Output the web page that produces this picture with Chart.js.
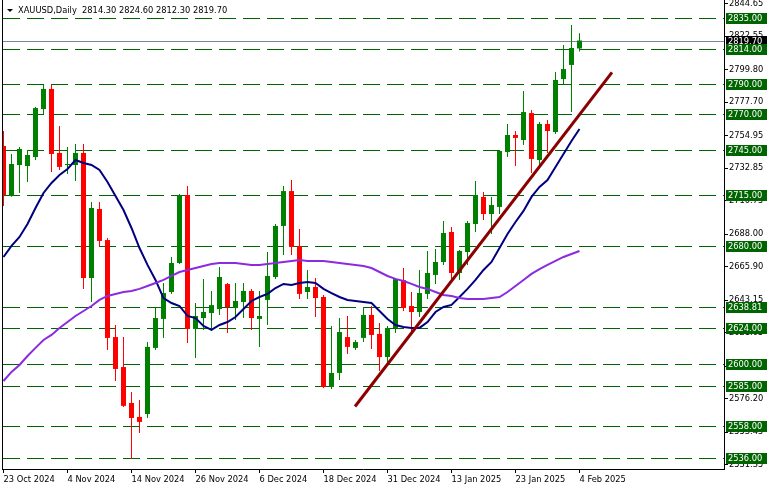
<!DOCTYPE html>
<html><head><meta charset="utf-8">
<script src="https://cdn.jsdelivr.net/npm/chart.js@4.4.0/dist/chart.umd.min.js"></script>
<style>html,body{margin:0;padding:0;background:#fff}#wrap{width:770px;height:490px}</style>
</head><body><div id="wrap"><canvas id="c" width="770" height="490"></canvas></div>
<script>
const symbolTitle = 'XAUUSD,Daily  2814.30 2824.60 2812.30 2819.70';
const dates = ['23 Oct 2024','24 Oct 2024','25 Oct 2024','28 Oct 2024','29 Oct 2024','30 Oct 2024','31 Oct 2024','1 Nov 2024','4 Nov 2024','5 Nov 2024','6 Nov 2024','7 Nov 2024','8 Nov 2024','11 Nov 2024','12 Nov 2024','13 Nov 2024','14 Nov 2024','15 Nov 2024','18 Nov 2024','19 Nov 2024','20 Nov 2024','21 Nov 2024','22 Nov 2024','25 Nov 2024','26 Nov 2024','27 Nov 2024','28 Nov 2024','29 Nov 2024','2 Dec 2024','3 Dec 2024','4 Dec 2024','5 Dec 2024','6 Dec 2024','9 Dec 2024','10 Dec 2024','11 Dec 2024','12 Dec 2024','13 Dec 2024','16 Dec 2024','17 Dec 2024','18 Dec 2024','19 Dec 2024','20 Dec 2024','23 Dec 2024','24 Dec 2024','26 Dec 2024','27 Dec 2024','30 Dec 2024','31 Dec 2024','2 Jan 2025','3 Jan 2025','6 Jan 2025','7 Jan 2025','8 Jan 2025','9 Jan 2025','10 Jan 2025','13 Jan 2025','14 Jan 2025','15 Jan 2025','16 Jan 2025','17 Jan 2025','20 Jan 2025','21 Jan 2025','22 Jan 2025','23 Jan 2025','24 Jan 2025','27 Jan 2025','28 Jan 2025','29 Jan 2025','30 Jan 2025','31 Jan 2025','3 Feb 2025','4 Feb 2025'];

const open = [2748.0,2714.0,2735.1,2734.4,2740.5,2773.1,2786.8,2743.3,2735.1,2735.1,
  2743.3,2658.3,2705.2,2684.1,2618.2,2597.8,2573.4,2563.9,2565.9,2610.8,
  2630.5,2648.8,2668.5,2714.7,2623.7,2631.1,2634.5,2637.2,2654.2,2637.9,
  2642.0,2649.5,2630.5,2643.4,2659.0,2693.7,2717.4,2680.1,2648.8,2652.2,
  2645.4,2584.3,2593.8,2618.2,2610.8,2617.6,2633.2,2620.3,2604.6,2624.3,
  2656.9,2639.3,2635.2,2647.5,2660.4,2669.2,2689.6,2661.7,2676.0,2695.0,
  2713.4,2701.8,2706.6,2743.9,2755.5,2752.1,2770.4,2738.5,2763.0,2757.5,
  2793.5,2803.1,2814.3];
const high = [2758.2,2742.6,2747.3,2745.3,2774.5,2789.5,2789.5,2761.6,2747.3,2749.4,
  2749.4,2709.9,2709.9,2685.5,2626.4,2618.2,2580.9,2575.4,2614.8,2638.6,
  2654.9,2672.6,2715.4,2720.8,2641.3,2657.6,2649.5,2665.8,2654.9,2654.9,
  2654.9,2650.8,2649.5,2676.0,2695.0,2720.8,2724.9,2691.6,2663.8,2658.3,
  2646.8,2625.7,2631.1,2632.5,2616.2,2638.6,2639.3,2627.7,2625.7,2658.3,
  2665.1,2648.8,2663.8,2676.7,2678.0,2697.1,2693.0,2677.4,2697.1,2724.2,
  2716.8,2713.4,2745.3,2762.9,2758.2,2785.4,2772.5,2764.3,2765.7,2798.3,
  2816.7,2830.2,2824.6];
const low = [2707.3,2713.5,2716.1,2723.6,2738.5,2769.8,2730.3,2731.7,2729.0,2724.2,
  2650.8,2642.0,2679.4,2609.4,2588.3,2570.7,2535.3,2553.0,2563.2,2609.4,
  2617.6,2647.5,2667.8,2614.2,2604.0,2623.0,2622.3,2633.2,2620.9,2629.8,
  2631.1,2623.0,2611.5,2626.4,2657.6,2674.0,2674.0,2644.1,2644.1,2631.8,
  2583.6,2582.9,2589.0,2606.7,2609.4,2614.8,2610.1,2595.1,2601.2,2620.9,
  2635.9,2620.3,2631.8,2644.1,2654.2,2667.2,2656.3,2657.0,2667.2,2689.6,
  2697.7,2688.2,2701.8,2740.5,2734.4,2748.7,2729.7,2734.4,2743.3,2756.2,
  2790.1,2771.1,2812.3];
const close = [2714.7,2735.8,2746.0,2741.9,2773.8,2786.8,2742.6,2733.8,2735.8,2743.3,
  2658.3,2705.9,2683.5,2617.6,2596.5,2571.4,2563.2,2560.5,2611.5,2631.1,
  2648.1,2668.5,2714.7,2623.7,2632.5,2635.2,2639.9,2659.0,2638.6,2642.7,
  2649.5,2631.1,2632.5,2659.7,2693.7,2717.4,2679.4,2647.5,2652.2,2644.7,
  2584.3,2593.8,2621.6,2611.5,2614.8,2633.2,2619.6,2604.6,2624.3,2657.6,
  2637.9,2635.2,2648.1,2661.7,2669.2,2688.9,2661.7,2676.7,2695.7,2714.7,
  2701.8,2707.9,2744.6,2755.5,2753.5,2771.1,2739.2,2763.0,2758.2,2792.9,
  2800.3,2814.6,2819.7];
const maFast = [2672.6,2680.1,2686.2,2695.0,2705.9,2716.1,2722.9,2728.3,2732.4,2738.5,
  2736.5,2735.1,2731.7,2723.6,2714.0,2704.5,2692.3,2678.7,2667.2,2657.0,
  2644.7,2641.3,2639.3,2632.5,2631.1,2625.7,2623.0,2626.4,2628.4,2631.8,
  2637.3,2642.7,2645.4,2647.5,2651.5,2654.3,2653.6,2654.9,2655.6,2654.9,
  2650.9,2648.1,2645.4,2643.4,2642.7,2642.0,2641.3,2635.9,2630.5,2626.4,
  2625.0,2624.4,2624.4,2628.4,2635.2,2638.6,2640.0,2645.4,2650.9,2657.0,
  2663.8,2669.2,2678.7,2688.2,2696.4,2703.9,2713.4,2720.2,2724.9,2733.8,
  2742.6,2751.4,2759.6];
const maSlow = [2588.3,2594.5,2599.2,2605.3,2610.8,2616.2,2619.6,2624.4,2628.4,2632.5,
  2635.9,2639.3,2643.4,2646.1,2647.5,2648.8,2649.5,2650.9,2652.9,2654.9,
  2657.0,2659.7,2662.4,2663.8,2665.1,2666.5,2667.8,2668.5,2668.5,2668.5,
  2667.8,2667.2,2667.2,2667.8,2668.5,2669.2,2669.9,2670.6,2669.9,2669.9,
  2669.9,2669.2,2668.5,2667.8,2667.2,2666.5,2665.1,2662.4,2659.7,2657.7,
  2656.3,2654.3,2652.2,2650.9,2648.8,2646.8,2646.1,2644.7,2644.1,2644.1,
  2644.1,2644.7,2645.4,2648.8,2652.9,2657.0,2661.1,2664.4,2667.2,2669.9,
  2672.6,2674.6,2676.7];
const levels = [2835, 2814, 2790, 2770, 2745, 2715, 2680, 2638.81, 2624, 2600, 2585, 2558, 2536];
const bidPrice = 2819.70;
const yTicks = [2844.65, 2822.55, 2799.80, 2777.70, 2754.95, 2732.85, 2710.75, 2688.00, 2665.90, 2643.15, 2621.05, 2598.30, 2576.20, 2553.45, 2531.35];
const xTickEvery = 8;
const trendX = [43.94, 76.06];
const trendY = [2571.0, 2798.0];

const FONT_FAMILY = 'DejaVu Sans';
const FONT_SIZE = 8.3;
const FONT = {family: FONT_FAMILY, size: FONT_SIZE};
const CSS_FONT = FONT_SIZE + 'px "' + FONT_FAMILY + '"';
const UP = '#008000', DOWN = '#FF0000', LEVEL = '#006400';
const candleColors = close.map((c, i) => c >= open[i] ? UP : DOWN);

const bgPlugin = {
  id: 'bg',
  beforeDraw(chart) {
    const ctx = chart.ctx;
    ctx.save(); ctx.fillStyle = '#fff'; ctx.fillRect(0, 0, chart.width, chart.height); ctx.restore();
  }
};

const levelsPlugin = {
  id: 'levels',
  beforeDatasetsDraw(chart) {
    const ctx = chart.ctx, a = chart.chartArea, ys = chart.scales.y;
    ctx.save();
    ctx.beginPath(); ctx.rect(a.left, a.top, a.right - a.left, a.bottom - a.top); ctx.clip();
    ctx.lineWidth = 1;
    ctx.strokeStyle = LEVEL;
    ctx.setLineDash([17, 7]);
    levels.forEach(v => {
      const y = Math.round(ys.getPixelForValue(v)) + 0.5;
      ctx.beginPath(); ctx.moveTo(a.left + 1, y); ctx.lineTo(a.right, y); ctx.stroke();
    });
    ctx.setLineDash([]);
    ctx.strokeStyle = '#778899';
    const by = Math.round(ys.getPixelForValue(bidPrice)) + 0.5;
    ctx.beginPath(); ctx.moveTo(a.left, by); ctx.lineTo(a.right, by); ctx.stroke();
    ctx.restore();
  }
};

const labelsPlugin = {
  id: 'labels',
  afterDraw(chart) {
    const ctx = chart.ctx, a = chart.chartArea, ys = chart.scales.y;
    ctx.save();
    ctx.fillStyle = '#000';
    ctx.fillRect(a.left, 0, 1, a.bottom);
    ctx.beginPath(); ctx.moveTo(7, 9); ctx.lineTo(13, 9); ctx.lineTo(10, 12); ctx.closePath(); ctx.fill();
    ctx.font = CSS_FONT; ctx.textBaseline = 'middle'; ctx.textAlign = 'left';
    ctx.fillText(symbolTitle, 18, 10.5);
    const boxX = a.right + 2;
    function box(v, fill, txt) {
      const y = Math.round(ys.getPixelForValue(v));
      ctx.fillStyle = fill; ctx.fillRect(boxX, y - 5, 41, 11);
      ctx.fillStyle = '#fff'; ctx.fillText(txt, boxX + 2, y + 0.5);
    }
    box(bidPrice, '#000', bidPrice.toFixed(2));
    levels.forEach(v => box(v, LEVEL, v.toFixed(2)));
    ctx.restore();
  }
};

new Chart(document.getElementById('c'), {
  type: 'bar',
  data: {
    datasets: [
      {type: 'bar', label: 'wick', data: dates.map((d, i) => ({x: i, y: [low[i], high[i]]})),
        backgroundColor: candleColors, barThickness: 1, grouped: false, inflateAmount: 0, borderWidth: 0, order: 5},
      {type: 'bar', label: 'body', data: dates.map((d, i) => ({x: i, y: [open[i], close[i]]})),
        backgroundColor: candleColors, barThickness: 5, grouped: false, inflateAmount: 0, borderWidth: 0, minBarLength: 1, order: 4},
      {type: 'line', label: 'MA fast', data: maFast.map((v, i) => ({x: i, y: v})),
        borderColor: '#000080', borderWidth: 2, pointRadius: 0, tension: 0, order: 3},
      {type: 'line', label: 'MA slow', data: maSlow.map((v, i) => ({x: i, y: v})),
        borderColor: '#8A2BE2', borderWidth: 2, pointRadius: 0, tension: 0, order: 2},
      {type: 'line', label: 'trend', data: trendX.map((x, i) => ({x: x, y: trendY[i]})),
        borderColor: '#8B0000', borderWidth: 3, pointRadius: 0, order: 1}
    ]
  },
  options: {
    responsive: false, animation: false, events: [],
    layout: {padding: {left: 2, top: 0, right: 0, bottom: 0}},
    plugins: {legend: {display: false}, tooltip: {enabled: false}, title: {display: false}},
    scales: {
      x: {
        type: 'linear', min: -0.1875, max: 90.0625, offset: false,
        grid: {drawOnChartArea: false, color: '#000', tickLength: 4, offset: false},
        border: {display: true, color: '#000', width: 1},
        ticks: {font: FONT, color: '#000', align: 'start', maxRotation: 0, minRotation: 0, autoSkip: false, padding: 2,
          callback: v => dates[v] || ''},
        afterBuildTicks: s => { const t = []; for (let i = 0; i < dates.length; i += xTickEvery) t.push({value: i}); s.ticks = t; },
        afterFit: s => { s.height = 21; s.paddingLeft = 0; s.paddingRight = 0; }
      },
      y: {
        type: 'linear', position: 'right', min: 2528.52, max: 2847.23, beginAtZero: false,
        grid: {drawOnChartArea: false, color: '#000', tickLength: 4},
        border: {display: true, color: '#000', width: 1},
        ticks: {font: FONT, color: '#000', padding: 1, autoSkip: false, callback: v => Number(v).toFixed(2)},
        afterBuildTicks: s => { s.ticks = yTicks.map(v => ({value: v})); },
        afterFit: s => { s.width = 46; s.paddingTop = 0; s.paddingBottom = 0; }
      }
    }
  },
  plugins: [bgPlugin, levelsPlugin, labelsPlugin]
});
</script>
</body></html>
